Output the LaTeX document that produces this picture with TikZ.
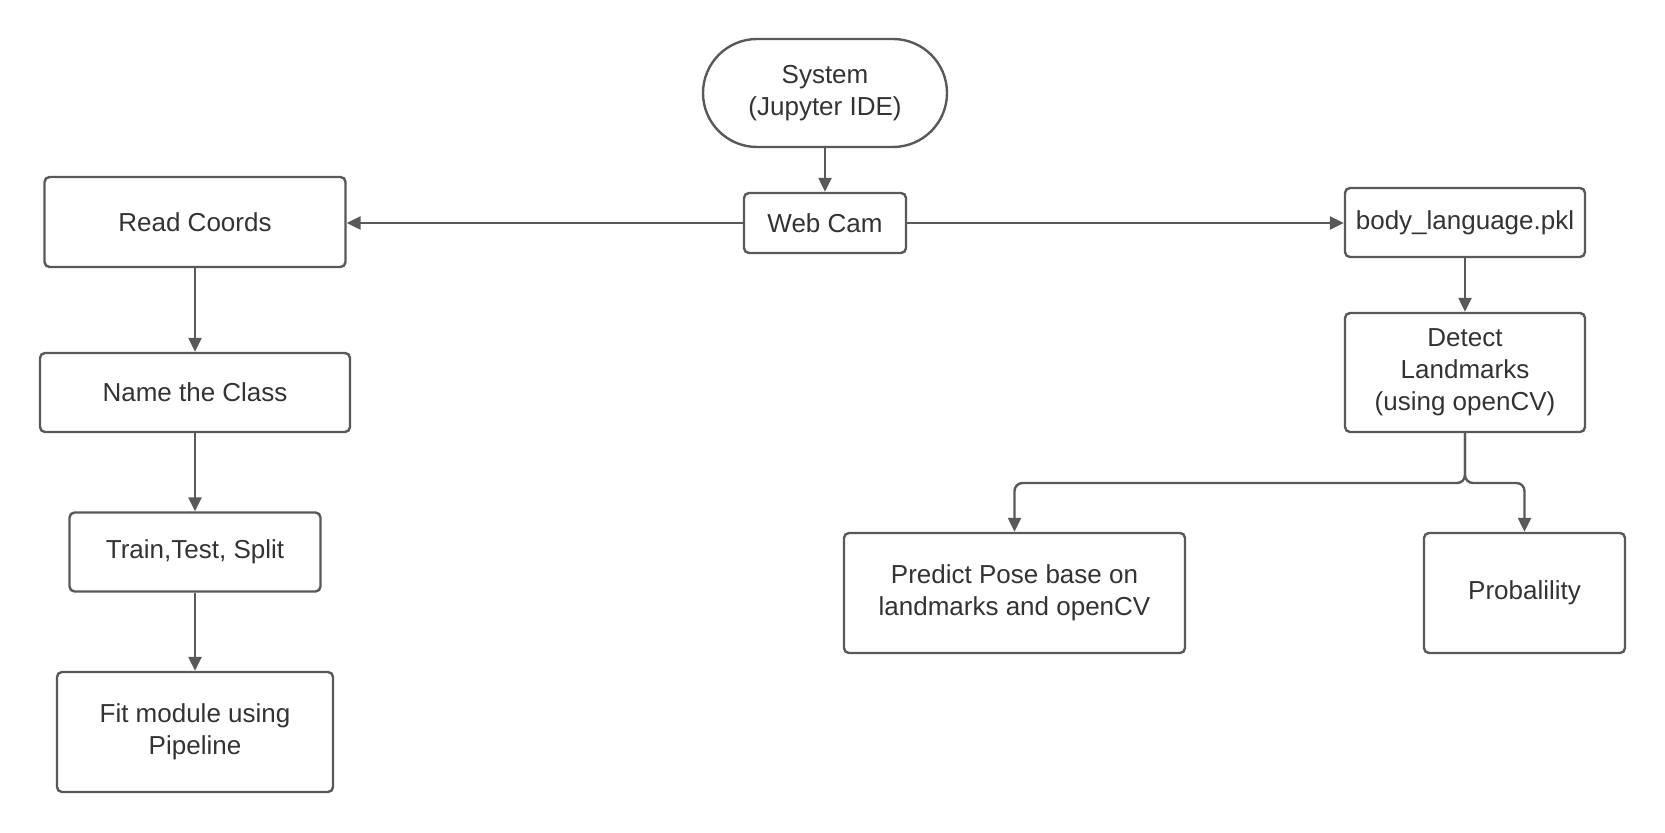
\documentclass[tikz,border=0pt]{standalone}
\usepackage{fontspec}
\setmainfont{Liberation Sans}
\usetikzlibrary{arrows.meta}
\definecolor{linegray}{HTML}{595959}
\definecolor{txtgray}{HTML}{333333}
\tikzset{
  box/.style={draw=linegray, line width=1.2pt, rounded corners=2.5pt, fill=white,
    text=txtgray, align=center, inner sep=0pt, font=\fontsize{13}{16}\selectfont},
  conn/.style={draw=linegray, line width=1.2pt, -{Triangle[length=7pt,width=6.5pt]}}
}
\begin{document}
\begin{tikzpicture}[x=0.5pt,y=-0.5pt]
\path[fill=white, use as bounding box] (0,0) rectangle (1665,833);
\node[box, rounded corners=27pt, minimum width=122pt, minimum height=54pt] (sys) at (825,93) {System\\(Jupyter IDE)};
\node[box, minimum width=81pt, minimum height=30pt] (cam) at (825,223) {Web Cam};
\node[box, minimum width=150.5pt, minimum height=45pt] (read) at (195,222) {Read Coords};
\node[box, minimum width=155pt, minimum height=39.5pt] (name) at (195,392.5) {Name the Class};
\node[box, minimum width=125.5pt, minimum height=39.5pt] (train) at (195,552) {Train,Test, Split};
\node[box, minimum width=138pt, minimum height=60pt] (fit) at (195,732) {Fit module using\\Pipeline};
\node[box, minimum width=120pt, minimum height=34.5pt] (pkl) at (1465,222.5) {body\_language.pkl};
\node[box, minimum width=120pt, minimum height=59.5pt] (det) at (1465,372.5) {Detect\\Landmarks\\(using openCV)};
\node[box, minimum width=170.5pt, minimum height=60pt] (pred) at (1014.5,593) {Predict Pose base on\\landmarks and openCV};
\node[box, minimum width=100.5pt, minimum height=60pt] (prob) at (1524.5,593) {Probalility};
\coordinate (br) at (1465,483);
\draw[conn] (sys.south) -- (cam.north);
\draw[conn] (cam.west) -- (cam.west -| read.east);
\draw[conn] (cam.east) -- (cam.east -| pkl.west);
\draw[conn] (read.south) -- (name.north);
\draw[conn] (name.south) -- (train.north);
\draw[conn] (train.south) -- (fit.north);
\draw[conn] (pkl.south) -- (det.north);
\draw[conn, rounded corners=4pt] (det.south) -- (br) -| (pred.north);
\draw[conn, rounded corners=4pt] (det.south) -- (br) -| (prob.north);
\end{tikzpicture}
\end{document}
